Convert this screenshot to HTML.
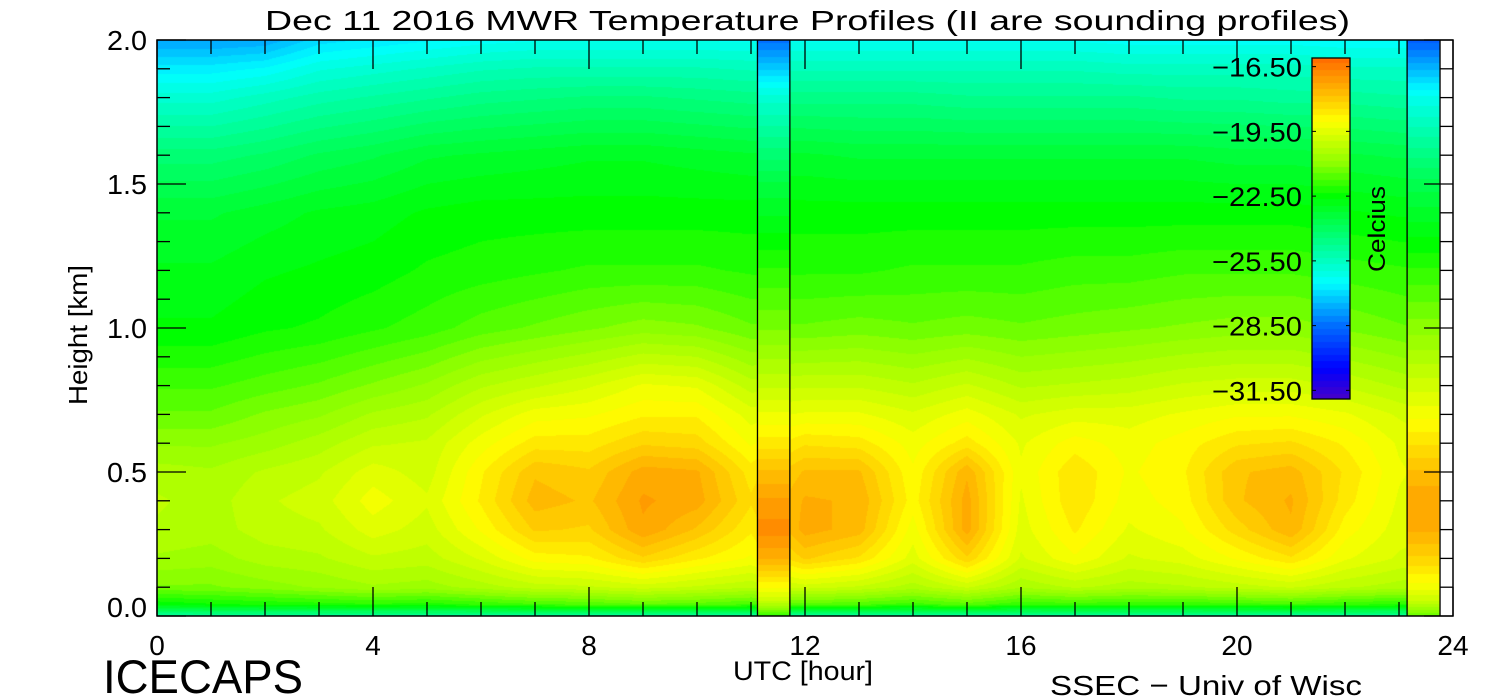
<!DOCTYPE html>
<html><head><meta charset="utf-8">
<style>
html,body{margin:0;padding:0;background:#fff;}
#wrap{position:relative;width:1500px;height:700px;overflow:hidden;}
canvas,svg{position:absolute;left:0;top:0;}
text{font-family:"Liberation Sans",sans-serif;fill:#000;}
</style></head>
<body>
<div id="wrap">
<canvas id="cv" width="1500" height="700"></canvas>
<svg id="sv" width="1500" height="700"></svg>
</div>
<script>
// ---- data ----
const hours = [0,1,2,3,4,5,6,7,8,9,10,11,12,13,14,15,16,17,18,19,20,21,22,23,24];
const heights = [0,0.04,0.1,0.2,0.3,0.4,0.5,0.6,0.7,0.8,1.0,1.2,1.4,1.6,1.8,1.9,2.0];
const tH000 = [-25,-25,-25,-25,-25,-25,-25,-25,-25,-25,-25,-25,-25,-25,-25,-25,-25,-25,-25,-25,-25,-25,-25,-25,-25];
const tH004 = [-22.6,-22.4,-22.3,-22.2,-22.1,-22.2,-22,-21.8,-21.7,-21.5,-21.6,-21.8,-21.6,-21.7,-21.9,-21.6,-22,-21.9,-22,-22,-21.9,-21.8,-22,-22.1,-22.2];
const tH010 = [-21.2,-21.2,-21,-20.8,-20.6,-20.7,-20.4,-20.1,-20,-19.8,-20,-20.2,-19.8,-20,-20.4,-19.9,-20.5,-20.2,-20.4,-20.3,-20.1,-19.9,-20.2,-20.4,-20.6];
const tH020 = [-20.6,-20.7,-20.4,-20.3,-20,-20.1,-19.6,-18.9,-18.8,-18.2,-18.7,-19.1,-18.1,-18.5,-19.5,-18.2,-19.7,-19.1,-19.7,-19.5,-19,-18.5,-19.3,-19.7,-19.9];
const tH030 = [-20.3,-20.4,-20.1,-20,-19.5,-19.8,-19,-18.1,-18.2,-17.3,-17.9,-18.7,-17.4,-17.7,-19.2,-17.4,-19.5,-18.7,-19.4,-19.1,-18.3,-17.6,-18.9,-19.5,-19.7];
const tH040 = [-20.2,-20.4,-20,-19.8,-19.2,-19.6,-18.7,-17.7,-17.9,-17.2,-17.4,-18.4,-17.5,-17.6,-18.9,-17.4,-19.4,-18.5,-19.2,-18.9,-17.9,-17.5,-18.6,-19.4,-19.7];
const tH050 = [-20.4,-20.5,-20.2,-20,-19.5,-19.8,-18.8,-17.9,-18.1,-17.4,-17.5,-18.6,-17.8,-17.8,-19,-17.6,-19.3,-18.5,-19.1,-18.8,-17.9,-17.7,-18.5,-19.3,-19.6];
const tH060 = [-20.9,-20.9,-20.7,-20.4,-20,-19.9,-19.2,-18.6,-18.6,-18.2,-18.3,-19.1,-18.5,-18.6,-19.2,-18.6,-19.4,-18.9,-19.2,-18.9,-18.5,-18.4,-18.8,-19.4,-19.7];
const tH070 = [-21.4,-21.4,-21.1,-20.9,-20.5,-20.3,-19.7,-19.2,-19.1,-18.8,-18.8,-19.5,-19.3,-19.3,-19.6,-19.2,-19.7,-19.5,-19.5,-19.3,-19.1,-19.1,-19.3,-19.7,-20];
const tH080 = [-21.8,-21.8,-21.6,-21.4,-21.1,-20.8,-20.3,-20,-19.7,-19.3,-19.4,-20.1,-20,-20,-20.2,-19.9,-20.3,-20.2,-20.1,-19.9,-19.8,-19.8,-20,-20.3,-20.6];
const tH100 = [-22.6,-22.6,-22.4,-22.3,-22.1,-21.9,-21.6,-21.4,-21.2,-21,-21.1,-21.4,-21.4,-21.3,-21.4,-21.3,-21.4,-21.3,-21.2,-21.1,-21,-21,-21.2,-21.4,-21.6];
const tH120 = [-22.9,-22.9,-22.7,-22.6,-22.5,-22.3,-22.2,-22.1,-22,-22,-22,-22.1,-22.1,-22.1,-22,-22,-22,-21.9,-21.9,-21.8,-21.8,-21.8,-21.9,-22,-22.1];
const tH140 = [-23.3,-23.3,-23.1,-22.9,-22.8,-22.6,-22.5,-22.5,-22.5,-22.5,-22.5,-22.5,-22.5,-22.5,-22.5,-22.5,-22.5,-22.5,-22.5,-22.5,-22.5,-22.5,-22.6,-22.7,-22.7];
const tH160 = [-24.3,-24.3,-24.1,-23.8,-23.6,-23.3,-23.2,-23.1,-23,-23,-23.1,-23.2,-23.2,-23.3,-23.3,-23.3,-23.3,-23.3,-23.3,-23.3,-23.4,-23.4,-23.5,-23.6,-23.6];
const tH180 = [-25.8,-25.8,-25.5,-25.2,-25,-24.8,-24.6,-24.5,-24.4,-24.4,-24.5,-24.6,-24.6,-24.6,-24.6,-24.7,-24.7,-24.7,-24.7,-24.8,-24.8,-24.9,-24.9,-25,-25];
const tH190 = [-26.7,-26.7,-26.5,-26,-25.8,-25.6,-25.4,-25.3,-25.3,-25.3,-25.3,-25.4,-25.4,-25.4,-25.4,-25.4,-25.4,-25.4,-25.5,-25.5,-25.5,-25.5,-25.6,-25.6,-25.6];
const tH200 = [-27.8,-27.8,-27.7,-27,-26.8,-26.6,-26.4,-26.3,-26.3,-26.3,-26.3,-26.3,-26.3,-26.3,-26.3,-26.3,-26.3,-26.3,-26.4,-26.4,-26.4,-26.4,-26.5,-26.5,-26.5];
const field = [tH000,tH004,tH010,tH020,tH030,tH040,tH050,tH060,tH070,tH080,tH100,tH120,tH140,tH160,tH180,tH190,tH200];
// sounding profiles
const soundingStart = [11.12, 23.15];
const soundingEnd = [11.72, 23.76];
const soundingHeights = [0,0.05,0.1,0.2,0.3,0.4,0.5,0.6,0.8,1.0,1.2,1.5,1.8,1.9,2.0];
const sounding1 = [-22,-20,-19,-17.5,-16.8,-17.2,-17.8,-18.6,-20,-21.2,-22,-23.5,-25.8,-27.2,-28.5];
const sounding2 = [-21.5,-20,-19.2,-18.2,-17.5,-17.3,-17.8,-18.5,-19.8,-21,-22,-23.7,-26.2,-27.5,-28.8];
const soundings = [sounding1, sounding2];
const dataEnd = 23.76;
// axis ticks
const xTicks = [0,4,8,12,16,20,24];
const yTicks = [0.0,0.5,1.0,1.5,2.0];
const cbLabels = [-16.5,-19.5,-22.5,-25.5,-28.5,-31.5];

// ---- scales ----
const X0=157, X1=1453, Y0=616, Y1=40;
const xs = h => X0 + (X1-X0)*h/24;
const ys = k => Y0 - (Y0-Y1)*k/2;
const CB_TOP=58, CB_BOT=399, CB_TMAX=-16.1, CB_TMIN=-31.9;
const cbY = t => CB_TOP + (CB_TMAX-t)/(CB_TMAX-CB_TMIN)*(CB_BOT-CB_TOP);

const cmapT = [-31.9,-30.5,-28.5,-26.5,-25,-22.5,-21,-19,-17.8,-16.1];
const cmapC = [[70,0,200],[0,0,255],[0,110,255],[0,255,255],[0,255,160],[0,255,0],[140,255,0],[255,255,0],[255,190,0],[255,105,0]];
function color(t){
  t = Math.round(t/0.3)*0.3;
  if(t<=cmapT[0]) return cmapC[0];
  for(let i=1;i<cmapT.length;i++){
    if(t<=cmapT[i]){const f=(t-cmapT[i-1])/(cmapT[i]-cmapT[i-1]);
      return cmapC[i-1].map((c,j)=>Math.round(c+(cmapC[i][j]-c)*f));}
  }
  return cmapC[cmapC.length-1];
}
function interp1(xsArr, v){
  if(v<=xsArr[0]) return [0,0,0];
  for(let i=1;i<xsArr.length;i++){ if(v<=xsArr[i]) return [i-1,i,(v-xsArr[i-1])/(xsArr[i]-xsArr[i-1])]; }
  return [xsArr.length-1,xsArr.length-1,0];
}
function fieldAt(h,k){
  const [i0,i1,fx]=interp1(hours,h);
  const [j0,j1,fy]=interp1(heights,k);
  const a=field[j0][i0]*(1-fx)+field[j0][i1]*fx;
  const b=field[j1][i0]*(1-fx)+field[j1][i1]*fx;
  return a*(1-fy)+b*fy;
}
function soundAt(s,k){
  const [j0,j1,f]=interp1(soundingHeights,k);
  return s[j0]*(1-f)+s[j1]*f;
}
const cv=document.getElementById('cv'); const ctx=cv.getContext('2d');
const W=X1-X0, H=Y0-Y1;
const img=ctx.createImageData(W,H);
for(let py=0;py<H;py++){
  const k=(Y0-(Y1+py+0.5))/(Y0-Y1)*2;
  for(let px=0;px<W;px++){
    const h=(px+0.5)/W*24;
    let t, white=false;
    if(h>dataEnd) white=true;
    else{
      t=null;
      for(let s=0;s<soundings.length;s++){ if(h>=soundingStart[s]&&h<=soundingEnd[s]) t=soundAt(soundings[s],k); }
      if(t===null) t=fieldAt(h,k);
    }
    const c= white?[255,255,255]:color(t);
    const o=(py*W+px)*4; img.data[o]=c[0];img.data[o+1]=c[1];img.data[o+2]=c[2];img.data[o+3]=255;
  }
}
ctx.putImageData(img,X0,Y1);
// colorbar
for(let y=CB_TOP;y<CB_BOT;y++){
  const t=CB_TMAX-(y+0.5-CB_TOP)/(CB_BOT-CB_TOP)*(CB_TMAX-CB_TMIN);
  const c=color(t); ctx.fillStyle=`rgb(${c[0]},${c[1]},${c[2]})`; ctx.fillRect(1312,y,38,1);
}

// ---- overlay ----
const NS='http://www.w3.org/2000/svg'; const sv=document.getElementById('sv');
function mk(tag,attrs,name,txt){const e=document.createElementNS(NS,tag);for(const k in attrs)e.setAttribute(k,attrs[k]);
  
  
  if(txt!==undefined)e.textContent=txt; sv.appendChild(e); return e;}
mk('rect',{x:X0,y:Y1,width:W,height:H,fill:'none',stroke:'#000','stroke-width':1.5},'plot-frame');
for(let s=0;s<soundings.length;s++){
  mk('line',{x1:xs(soundingStart[s]),x2:xs(soundingStart[s]),y1:Y1,y2:Y0,stroke:'#000','stroke-width':1.3},'sounding-edge');
  mk('line',{x1:xs(soundingEnd[s]),x2:xs(soundingEnd[s]),y1:Y1,y2:Y0,stroke:'#000','stroke-width':1.3},'sounding-edge');
}
for(let h=0;h<=24;h++){
  const L=(h%4===0)?29:14;
  mk('line',{x1:xs(h),x2:xs(h),y1:Y0,y2:Y0-L,stroke:'#000','stroke-width':1.3},'x-tick');
  mk('line',{x1:xs(h),x2:xs(h),y1:Y1,y2:Y1+L,stroke:'#000','stroke-width':1.3},'x-tick-top');
}
for(let i=0;i<=20;i++){
  const k=i*0.1; const L=(i%5===0)?29:13;
  mk('line',{x1:X0,x2:X0+L,y1:ys(k),y2:ys(k),stroke:'#000','stroke-width':1.3},'y-tick');
  mk('line',{x1:X1,x2:X1-L,y1:ys(k),y2:ys(k),stroke:'#000','stroke-width':1.3},'y-tick-right');
}
xTicks.forEach(v=>mk('text',{x:xs(v),y:655,'font-size':28,'text-anchor':'middle'},'x-tick-label',String(v)));
yTicks.forEach(v=>mk('text',{x:147,y:Math.min(ys(v)+10,617),'font-size':28,'text-anchor':'end',textLength:40,lengthAdjust:'spacingAndGlyphs'},'y-tick-label',v.toFixed(1)));
mk('text',{x:265,y:30,'font-size':28,textLength:1085,lengthAdjust:'spacingAndGlyphs'},'chart-title','Dec 11 2016 MWR Temperature Profiles (II are sounding profiles)');
mk('text',{x:733,y:680,'font-size':27,textLength:140,lengthAdjust:'spacingAndGlyphs'},'x-axis-title','UTC [hour]');
mk('text',{x:0,y:0,'font-size':26,textLength:140,lengthAdjust:'spacingAndGlyphs',transform:'translate(87 405) rotate(-90)'},'y-axis-title','Height [km]');
mk('text',{x:103,y:693,'font-size':47,textLength:200,lengthAdjust:'spacingAndGlyphs'},'icecaps-label','ICECAPS');
mk('text',{x:1050,y:695,'font-size':28,textLength:312,lengthAdjust:'spacingAndGlyphs'},'ssec-credit','SSEC \u2212 Univ of Wisc');
mk('rect',{x:1312,y:CB_TOP,width:38,height:CB_BOT-CB_TOP,fill:'none',stroke:'#000','stroke-width':1.3},'colorbar');
cbLabels.forEach(v=>{
  const y=cbY(v);
  mk('line',{x1:1312,x2:1316,y1:y,y2:y,stroke:'#000'},'colorbar-tick');
  mk('line',{x1:1350,x2:1346,y1:y,y2:y,stroke:'#000'},'colorbar-tick');
  mk('text',{x:1212,y:y+10,'font-size':27,textLength:90,lengthAdjust:'spacingAndGlyphs'},'colorbar-label','\u2212'+Math.abs(v).toFixed(2));
});
mk('text',{x:0,y:0,'font-size':24,textLength:86,lengthAdjust:'spacingAndGlyphs',transform:'translate(1385 272) rotate(-90)'},'colorbar-title','Celcius');
</script>
</body></html>
